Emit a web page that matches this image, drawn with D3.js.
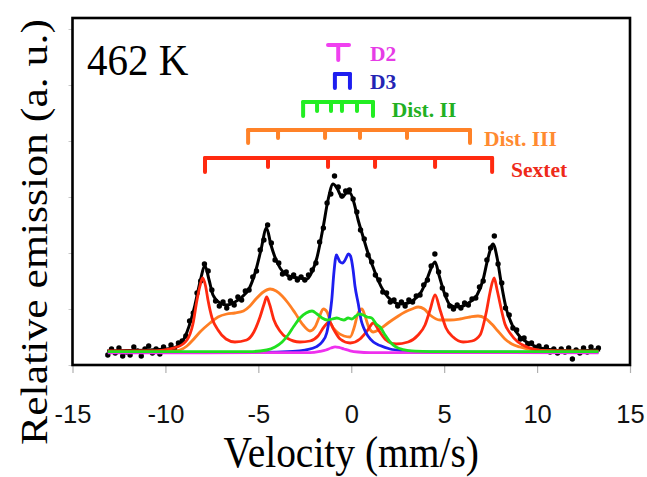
<!DOCTYPE html>
<html><head><meta charset="utf-8">
<script src="https://cdn.jsdelivr.net/npm/d3@7"></script>
<style>body{margin:0;background:#fff}</style>
</head><body>
<svg id="chart" width="647" height="477"></svg>
<script>
// ---------- data (velocity mm/s, relative emission a.u.) ----------
const xTickValues = [-15, -10, -5, 0, 5, 10, 15];
const yTickValues = [-6.5, 21.5, 49.5, 77.5, 105.5, 133.5, 161.5];
const temperatureLabel = "462 K";

const fitCurve = [[-13.14,0.5],[-11.91,0.75],[-10.83,1],[-9.75,1.75],[-9.22,3.5],[-8.84,10],[-8.41,23.5],[-8.14,35],[-7.87,43],[-7.65,36],[-7.44,28.5],[-7.06,24.5],[-6.69,23.5],[-6.26,25],[-5.88,27.5],[-5.45,32.5],[-5.13,41],[-4.86,51],[-4.56,62],[-4.32,53.5],[-4.0,45],[-3.62,39.5],[-3.19,37.5],[-2.76,37],[-2.38,36.5],[-2.12,40],[-1.85,47],[-1.52,62],[-1.25,76],[-0.98,84],[-0.77,82],[-0.5,77.5],[-0.23,79.5],[-0.06,79.5],[0.15,74.5],[0.37,66],[0.64,57.5],[0.9,49.5],[1.17,42.5],[1.44,36],[1.77,30],[2.2,25.5],[2.63,24],[3.06,24.5],[3.43,26.5],[3.76,30],[4.08,36.5],[4.35,43],[4.51,45],[4.72,38.5],[4.99,30],[5.32,23.5],[5.64,22.5],[6.02,23],[6.39,25],[6.77,28.5],[7.09,36],[7.36,47],[7.63,54],[7.85,47],[8.06,35],[8.33,22],[8.66,13.5],[9.09,7.5],[9.63,4],[10.43,1.5],[11.78,0.5],[13.39,1]];

const measured = [[-13.1,-1.5],[-12.9,1.5],[-12.7,-0.5],[-12.5,2],[-12.3,-2],[-12.1,0],[-11.9,-1.5],[-11.7,2.5],[-11.5,0.5],[-11.3,-2],[-11.1,1.5],[-10.9,3],[-10.7,-0.5],[-10.5,1.5],[-10.3,-1],[-10.1,2.5],[-9.9,0.5],[-9.7,3.5],[-9.5,1],[-9.3,4.5],[-9.1,5.5],[-8.9,8],[-8.7,15.5],[-8.5,19.5],[-8.3,29.5],[-8.1,35.5],[-7.9,44],[-7.7,40.5],[-7.5,31],[-7.3,25.5],[-7.1,23],[-6.9,25],[-6.7,22],[-6.5,25.5],[-6.3,23.5],[-6.1,27.5],[-5.9,26],[-5.7,30.5],[-5.5,31],[-5.3,37.5],[-5.1,40.5],[-4.9,51],[-4.7,56],[-4.5,63.5],[-4.3,54.5],[-4.1,46],[-3.9,44.5],[-3.7,39],[-3.5,40],[-3.3,37],[-3.1,38.5],[-2.9,36],[-2.7,37.5],[-2.5,36],[-2.3,38.5],[-2.1,41],[-1.9,44.5],[-1.7,55],[-1.5,62],[-1.3,74.5],[-1.1,79],[-0.9,88],[-0.7,82.5],[-0.5,78],[-0.3,80.5],[-0.1,81],[0.1,76.5],[0.3,70],[0.5,61],[0.7,56.5],[0.9,48.5],[1.1,45],[1.3,38.5],[1.5,36],[1.7,30],[1.9,29.5],[2.1,25],[2.3,26],[2.5,23],[2.7,25],[2.9,23],[3.1,26],[3.3,25],[3.5,28],[3.7,28.5],[3.9,33.5],[4.1,36],[4.3,43],[4.5,49],[4.7,40],[4.9,32],[5.1,28.5],[5.3,23],[5.5,21.5],[5.7,23.5],[5.9,22],[6.1,24.5],[6.3,23.5],[6.5,26.5],[6.7,27],[6.9,32.5],[7.1,35.5],[7.3,46],[7.5,52],[7.7,58],[7.9,44],[8.1,34.5],[8.3,22],[8.5,18.5],[8.7,12],[8.9,11],[9.1,6.5],[9.3,7],[9.5,4],[9.7,4.5],[9.9,2],[10.1,3],[10.3,1],[10.5,2.5],[10.7,0],[10.9,1.5],[11.1,-0.5],[11.3,1.5],[11.5,0],[11.7,2],[11.9,-3.5],[12.1,1],[12.3,-0.5],[12.5,2],[12.7,0],[12.9,2.5],[13.1,0.5],[13.3,2]];

const sextetCurve = [[-13.1,0.5],[-10.83,0.5],[-9.37,2.5],[-8.84,6],[-8.52,14],[-8.3,26],[-8.14,33],[-8.0,37],[-7.84,33],[-7.71,26],[-7.49,17],[-7.17,11],[-6.74,6.5],[-6.26,5],[-5.63,6],[-5.24,10],[-4.91,17.5],[-4.69,24],[-4.55,27.5],[-4.4,24],[-4.16,16],[-3.84,10.5],[-3.46,7],[-2.76,5],[-2.22,5.5],[-1.79,8],[-1.47,12.5],[-1.18,15],[-0.93,11],[-0.6,6.5],[-0.06,4.5],[0.47,6.5],[0.85,10.5],[1.19,14.5],[1.5,10.5],[1.87,6],[2.41,4],[3.06,5],[3.6,8.5],[3.97,13.5],[4.24,21],[4.51,28.5],[4.78,21],[5.1,12],[5.48,7.5],[6.02,5],[6.5,5.5],[6.93,8.5],[7.29,21],[7.47,30],[7.69,37],[7.85,31],[8.0,24.5],[8.27,14],[8.54,9.5],[8.97,5],[9.46,2.5],[10.53,0.5],[12.04,0.3],[13.3,0.3]];

const dist3Curve = [[-13.1,0.3],[-9.59,0.5],[-9.22,1],[-8.84,3],[-8.52,6],[-8.14,10],[-7.6,14.5],[-7.17,17.5],[-6.7,19],[-6.26,19.5],[-5.8,20.5],[-5.45,23],[-5.13,26.5],[-4.73,30],[-4.37,31.5],[-4.04,30.5],[-3.72,28],[-3.4,24.5],[-3.02,19.5],[-2.59,13.5],[-2.22,10.5],[-1.95,12.5],[-1.74,17],[-1.5,21.5],[-1.3,20],[-1.09,14],[-0.77,10],[-0.39,8],[-0.06,7.5],[0.15,12],[0.37,19.5],[0.57,21.5],[0.74,18],[0.96,12],[1.19,10],[1.55,11.5],[1.98,14.5],[2.45,17.5],[2.89,20],[3.27,21.5],[3.61,22.5],[3.92,21.5],[4.24,18.5],[4.78,16],[5.32,16],[5.85,16.5],[6.39,17.5],[6.82,18],[7.19,17],[7.56,14],[7.89,10.5],[8.27,6.5],[8.64,4],[9.07,2.5],[9.88,1],[10.96,0.5],[13.3,0.4]];

const dist2Curve = [[-13.1,0.2],[-5.5,0.2],[-4.55,1],[-4.1,2.5],[-3.72,5],[-3.4,8.5],[-3.08,13],[-2.76,17],[-2.43,19.5],[-2.11,20.5],[-1.84,19],[-1.57,17],[-1.3,16],[-1.03,16.5],[-0.78,17],[-0.6,16.5],[-0.39,16],[-0.17,17],[0.04,16.5],[0.25,18],[0.42,19],[0.64,18.5],[0.85,17.5],[1.1,17],[1.34,14],[1.55,12.5],[1.82,8.5],[2.09,5],[2.41,2.5],[2.79,1.2],[3.43,0.4],[4.24,0.2],[13.3,0.2]];

const d3Curve = [[-13.1,-0.2],[-4.91,-0.2],[-3.14,0.3],[-2.49,1],[-1.86,2.7],[-1.57,5],[-1.32,9.5],[-1.19,16],[-1.05,26],[-0.93,40],[-0.8,48.5],[-0.71,47],[-0.6,45],[-0.47,44.5],[-0.33,46],[-0.15,49],[-0.04,48],[0.1,41],[0.2,33],[0.38,24],[0.53,16],[0.65,12.5],[0.9,8],[1.19,5],[1.55,3.2],[2.09,1.5],[2.89,0.6],[3.86,0],[13.3,-0.2]];

const d2Curve = [[-13.1,-0.4],[-2.22,-0.3],[-1.69,0.3],[-1.36,1],[-1.09,2],[-0.87,2.6],[-0.66,2.3],[-0.39,1.5],[-0.06,0.6],[0.37,0],[1.01,-0.3],[13.3,-0.4]];

// stick diagrams: line positions (mm/s)
const d2Bar = [-1.25, -0.12];
const d2Lines = [-0.7];
const d3Lines = [-0.88, -0.07];
const dist2Lines = [-2.59, -1.84, -1.09, -0.50, 0.31, 1.17];
const dist3Lines = [-5.55, -3.94, -1.41, 0.47, 3.0, 6.39];
const sextetLines = [-7.87, -4.48, -1.25, 1.28, 4.51, 7.58];
const stickNames = ["D2", "D3", "Dist. II", "Dist. III", "Sextet"];

// ---------- drawing ----------
const svg = d3.select("#chart");
const x = d3.scaleLinear().domain([-15, 15]).range([72.5, 630]);
const y = d3.scaleLinear().domain([-6.5, 167]).range([365, 18]);

const line = d3.line().x(d => x(d[0])).y(d => y(d[1])).curve(d3.curveMonotoneX);

// axes
const xAxis = svg.append("g").attr("transform", `translate(0,${y(-6.5)})`)
  .call(d3.axisBottom(x).tickValues(xTickValues).tickSize(8).tickPadding(32).tickFormat(d3.format("d")));
xAxis.select(".domain").remove();
xAxis.selectAll(".tick line").attr("stroke", "#b0b0b0").attr("stroke-width", 1.2);
xAxis.selectAll(".tick text").attr("font-family", "Liberation Sans, Arial, sans-serif")
  .attr("font-size", 25.5).attr("fill", "#111").text(d => d < 0 ? "-" + Math.abs(d) : d);

const yAxis = svg.append("g").attr("transform", `translate(${x(-15)},0)`)
  .call(d3.axisLeft(y).tickValues(yTickValues).tickSize(4).tickFormat(""));
yAxis.select(".domain").remove();
yAxis.selectAll(".tick line").attr("stroke", "#c8c8c8").attr("stroke-width", 1);

// curves
const g = svg.append("g");
g.append("path").datum(fitCurve).attr("d", line).attr("fill", "none")
  .attr("stroke", "#000").attr("stroke-width", 3).attr("stroke-linejoin", "round");
g.selectAll("circle.pt").data(measured).join("circle").attr("class", "pt")
  .attr("cx", d => x(d[0])).attr("cy", d => y(d[1])).attr("r", 2.7).attr("fill", "#000");

const comps = [
  {data: dist3Curve, color: "#ff7f24"},
  {data: sextetCurve, color: "#ff2a10"},
  {data: d3Curve, color: "#1e1ef0"},
  {data: d2Curve, color: "#ee30ee"},
  {data: dist2Curve, color: "#20e020"}
];
comps.forEach(c => {
  g.append("path").datum(c.data).attr("d", line).attr("fill", "none")
    .attr("stroke", c.color).attr("stroke-width", 2.8).attr("stroke-linejoin", "round");
});

// frame
svg.append("rect").attr("x", x(-15)).attr("y", y(167)).attr("width", x(15) - x(-15))
  .attr("height", y(-6.5) - y(167)).attr("fill", "none").attr("stroke", "#000").attr("stroke-width", 2.6);

// stick diagrams
const sg = svg.append("g").attr("stroke-width", 4).attr("stroke-linecap", "round").attr("fill", "none");
function bracket(lines, topU, endLen, innerLen, color) {
  const top = y(topU);
  sg.append("line").attr("x1", x(lines[0])).attr("x2", x(lines[lines.length - 1]))
    .attr("y1", top).attr("y2", top).attr("stroke", color);
  lines.forEach((v, i) => {
    const end = (i === 0 || i === lines.length - 1);
    sg.append("line").attr("x1", x(v)).attr("x2", x(v)).attr("y1", top)
      .attr("y2", top + (end ? endLen : innerLen)).attr("stroke", color);
  });
}
// D2 "T"
sg.append("line").attr("x1", x(d2Bar[0])).attr("x2", x(d2Bar[1])).attr("y1", y(153.5)).attr("y2", y(153.5)).attr("stroke", "#f040f0");
d2Lines.forEach(v => sg.append("line").attr("x1", x(v)).attr("x2", x(v)).attr("y1", y(153.5)).attr("y2", y(153.5) + 15).attr("stroke", "#f040f0"));
bracket(d3Lines, 139, 14, 14, "#1e1ef0");
bracket(dist2Lines, 125, 14, 9, "#22ee22");
bracket(dist3Lines, 111, 13, 8, "#ff8228");
bracket(sextetLines, 97, 14, 9, "#ff2a10");

const labelInfo = [
  {t: stickNames[0], v: 1.01, u: 145.5, c: "#e63ce6"},
  {t: stickNames[1], v: 1.01, u: 131.5, c: "#2424b4"},
  {t: stickNames[2], v: 2.18, u: 117.5, c: "#22b022"},
  {t: stickNames[3], v: 7.14, u: 103, c: "#ff8a30"},
  {t: stickNames[4], v: 8.6, u: 87.5, c: "#ee2a1a"}
];
svg.selectAll("text.lab").data(labelInfo).join("text").attr("class", "lab")
  .attr("x", d => x(d.v)).attr("y", d => y(d.u)).text(d => d.t)
  .attr("fill", d => d.c).attr("font-family", "Liberation Serif, Times New Roman, serif")
  .attr("font-weight", "bold").attr("font-size", 21.5);

// temperature label
svg.append("text").attr("transform", "translate(87,75) scale(1,1.1)")
  .attr("font-family", "Liberation Serif, Times New Roman, serif").attr("font-size", 41)
  .attr("fill", "#000").text(temperatureLabel);

// axis titles
svg.append("text").attr("transform", `translate(${x(0)},467) scale(1,1.12)`)
  .attr("text-anchor", "middle").attr("font-family", "Liberation Serif, Times New Roman, serif")
  .attr("font-size", 39.5).attr("fill", "#000").text("Velocity (mm/s)");
svg.append("text").attr("transform", "translate(47,232) rotate(-90) scale(1.15,1)")
  .attr("text-anchor", "middle").attr("font-family", "Liberation Serif, Times New Roman, serif")
  .attr("font-size", 38).attr("fill", "#000").text("Relative emission (a. u.)");
</script>
</body></html>
